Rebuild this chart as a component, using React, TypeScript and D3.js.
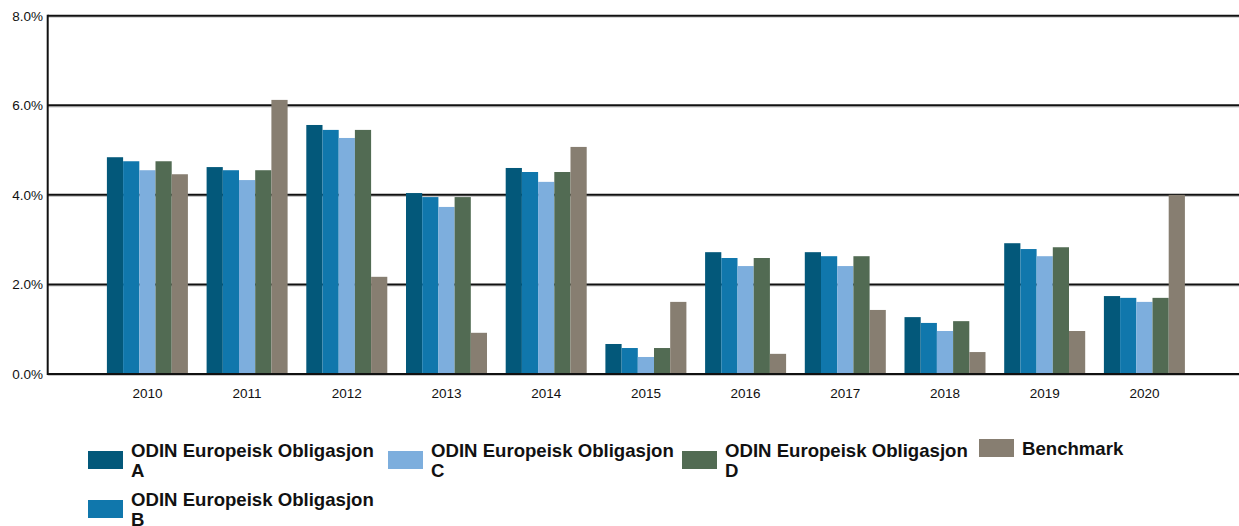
import React from "react";
import * as d3 from "d3";

const years = ["2010", "2011", "2012", "2013", "2014", "2015", "2016", "2017", "2018", "2019", "2020"];
const seriesNames = [
  "ODIN Europeisk Obligasjon A",
  "ODIN Europeisk Obligasjon B",
  "ODIN Europeisk Obligasjon C",
  "ODIN Europeisk Obligasjon D",
  "Benchmark",
];
const fundA = [4.84, 4.62, 5.56, 4.04, 4.6, 0.67, 2.72, 2.72, 1.27, 2.92, 1.74];
const fundB = [4.75, 4.55, 5.45, 3.95, 4.51, 0.58, 2.59, 2.63, 1.14, 2.79, 1.7];
const fundC = [4.55, 4.33, 5.27, 3.73, 4.29, 0.38, 2.41, 2.41, 0.96, 2.63, 1.61];
const fundD = [4.75, 4.55, 5.45, 3.95, 4.51, 0.58, 2.59, 2.63, 1.18, 2.83, 1.7];
const benchmark = [4.46, 6.12, 2.17, 0.92, 5.07, 1.61, 0.45, 1.43, 0.49, 0.96, 4.0];
const yTicks = [0, 2, 4, 6, 8];
const colors = ["#03587a", "#1077ac", "#7daedd", "#526b53", "#877e71"];

const allSeries = [fundA, fundB, fundC, fundD, benchmark];

const W = 1239;
const H = 526;
const left = 47.7;
const top = 15.7;
const bottom = 374;
const step = 99.7;

export default function App() {
  const y = d3.scaleLinear().domain([0, 8]).range([bottom, top]);
  const x = d3
    .scaleBand<string>()
    .domain(years)
    .range([left + step / 2, left + step / 2 + step * years.length])
    .padding(0);
  const inner = d3
    .scaleBand<string>()
    .domain(seriesNames)
    .range([-40.5, 40.5])
    .padding(0);

  // legend entries: swatch position and first-line baseline
  const legendItems = [
    { s: 0, x: 88, y: 451, base: 457, lines: ["ODIN Europeisk Obligasjon", "A"] },
    { s: 2, x: 388, y: 451, base: 457, lines: ["ODIN Europeisk Obligasjon", "C"] },
    { s: 3, x: 682, y: 451, base: 457, lines: ["ODIN Europeisk Obligasjon", "D"] },
    { s: 4, x: 979, y: 439, base: 455, lines: ["Benchmark"] },
    { s: 1, x: 88, y: 500, base: 506, lines: ["ODIN Europeisk Obligasjon", "B"] },
  ];

  return (
    <svg
      width={W}
      height={H}
      style={{ position: "absolute", left: 0, top: 0, background: "#fff" }}
      fontFamily="'Liberation Sans', Arial, sans-serif"
    >
      {/* gridlines */}
      {yTicks.map((t) => (
        <g key={t}>
          <line x1={left} x2={W} y1={y(t) + 1.4} y2={y(t) + 1.4} stroke="#c8c8c8" strokeWidth={1.4} />
          <line x1={left} x2={W} y1={y(t)} y2={y(t)} stroke="#111" strokeWidth={2} />
          <text x={43} y={y(t) + 5} textAnchor="end" fontSize={13.5} fill="#111">
            {t.toFixed(1)}%
          </text>
        </g>
      ))}
      {/* bars */}
      {years.map((yr, i) => (
        <g key={yr} transform={`translate(${x(yr)! + x.bandwidth() / 2},0)`}>
          {allSeries.map((vals, si) => (
            <rect
              key={si}
              x={inner(seriesNames[si])}
              width={inner.bandwidth()}
              y={y(vals[i])}
              height={y(0) - y(vals[i])}
              fill={colors[si]}
            />
          ))}
          <text x={0} y={398} textAnchor="middle" fontSize={13.5} fill="#111">
            {yr}
          </text>
        </g>
      ))}
      {/* axes */}
      <line x1={left} x2={left} y1={top - 1} y2={bottom + 1} stroke="#111" strokeWidth={2} />
      <line x1={left} x2={W} y1={bottom} y2={bottom} stroke="#111" strokeWidth={2} />
      {/* legend */}
      {legendItems.map((it) => (
        <g key={it.s}>
          <rect x={it.x} y={it.y} width={35} height={18} fill={colors[it.s]} />
          {it.lines.map((ln, li) => (
            <text
              key={li}
              x={it.x + 43}
              y={it.base + li * 20}
              fontWeight={700}
              fontSize={18.6}
              fill="#111"
            >
              {ln}
            </text>
          ))}
        </g>
      ))}
    </svg>
  );
}
